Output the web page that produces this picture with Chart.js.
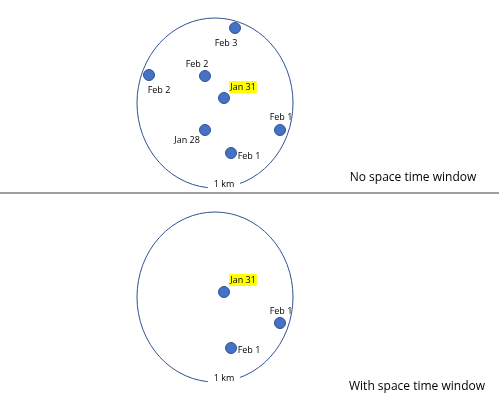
<!DOCTYPE html>
<html>
<head>
<meta charset="utf-8">
<script src="https://cdn.jsdelivr.net/npm/chart.js@4/dist/chart.umd.min.js"></script>
<style>
  html, body { margin: 0; padding: 0; background: #fff; }
  #wrap { width: 499px; height: 407px; }
</style>
</head>
<body>
<div id="wrap"><canvas id="c"></canvas></div>
<script>
// incident points (x, y in picture units)
const topPoints = [
  { x: 235, y: 28 }, { x: 149, y: 75 }, { x: 205, y: 76 }, { x: 224, y: 98 },
  { x: 280, y: 130 }, { x: 205, y: 130 }, { x: 231, y: 153 }
];
const topLabels = ["Feb 3", "Feb 2", "Feb 2", "Jan 31", "Feb 1", "Jan 28", "Feb 1"];
const topLabelPos = [
  { x: 226, y: 43 }, { x: 159, y: 90 }, { x: 197, y: 64 }, { x: 243, y: 87 },
  { x: 281, y: 117 }, { x: 187, y: 140 }, { x: 249, y: 156 }
];
const bottomPoints = [{ x: 224, y: 292 }, { x: 280, y: 323 }, { x: 231, y: 348 }];
const bottomLabels = ["Jan 31", "Feb 1", "Feb 1"];
const bottomLabelPos = [{ x: 243, y: 280 }, { x: 281, y: 311 }, { x: 249, y: 350 }];
const highlighted = "Jan 31";

// 1 km windows: center x, center y, radius x, radius y, label x
const windows = [
  { cx: 215, cy: 103, rx: 78, ry: 85, lx: 224, label: "1 km" },
  { cx: 215, cy: 297, rx: 78, ry: 85, lx: 224, label: "1 km" }
];
const captions = [
  { x: 413, y: 178, text: "No space time window" },
  { x: 417, y: 387, text: "With space time window" }
];
const dividerY = 193;

const overlay = {
  id: "overlay",
  beforeDatasetsDraw(chart) {
    const { ctx, scales: { x, y } } = chart;
    ctx.save();
    // divider
    ctx.strokeStyle = "#7f7f7f";
    ctx.lineWidth = 1.5;
    ctx.beginPath();
    ctx.moveTo(x.getPixelForValue(0), y.getPixelForValue(dividerY));
    ctx.lineTo(x.getPixelForValue(499), y.getPixelForValue(dividerY));
    ctx.stroke();
    // circles
    ctx.strokeStyle = "#2F528F";
    ctx.lineWidth = 1;
    ctx.font = "9px 'Open Sans', sans-serif";
    ctx.textAlign = "center";
    ctx.textBaseline = "middle";
    windows.forEach((w) => {
      const cx = x.getPixelForValue(w.cx), cy = y.getPixelForValue(w.cy);
      const rx = x.getPixelForValue(w.cx + w.rx) - cx;
      const ry = y.getPixelForValue(w.cy + w.ry) - cy;
      ctx.beginPath();
      ctx.ellipse(cx, cy, Math.abs(rx), Math.abs(ry), 0, 0, Math.PI * 2);
      ctx.stroke();
      const lx = x.getPixelForValue(w.lx);
      const ly = cy + Math.abs(ry) - 4;
      ctx.fillStyle = "#fff";
      ctx.fillRect(lx - 16, ly - 7, 32, 14);
      ctx.fillStyle = "#000";
      ctx.fillText(w.label, lx, ly);
    });
    ctx.restore();
  },
  afterDatasetsDraw(chart) {
    const { ctx, scales: { x, y } } = chart;
    ctx.save();
    ctx.font = "9px 'Open Sans', sans-serif";
    ctx.textAlign = "center";
    ctx.textBaseline = "middle";
    const drawLabels = (labels, pos) => {
      labels.forEach((t, i) => {
        const px = x.getPixelForValue(pos[i].x), py = y.getPixelForValue(pos[i].y);
        if (t === highlighted) {
          const w = ctx.measureText(t).width + 2;
          ctx.fillStyle = "#ffff00";
          ctx.fillRect(px - w / 2, py - 6, w, 12);
        }
        ctx.fillStyle = "#000";
        ctx.fillText(t, px, py);
      });
    };
    drawLabels(topLabels, topLabelPos);
    drawLabels(bottomLabels, bottomLabelPos);
    ctx.font = "12px 'Open Sans', sans-serif";
    captions.forEach((c) => {
      ctx.fillText(c.text, x.getPixelForValue(c.x), y.getPixelForValue(c.y));
    });
    ctx.restore();
  }
};

new Chart(document.getElementById("c"), {
  type: "scatter",
  data: {
    datasets: [
      { data: topPoints },
      { data: bottomPoints }
    ].map((d) => ({
      ...d,
      pointRadius: 5.5,
      pointBackgroundColor: "#4472C4",
      pointBorderColor: "#2F528F",
      pointBorderWidth: 1
    }))
  },
  options: {
    responsive: true,
    maintainAspectRatio: false,
    animation: false,
    layout: { padding: 0, autoPadding: false },
    plugins: { legend: { display: false }, tooltip: { enabled: false } },
    scales: {
      x: { type: "linear", min: 0, max: 499, display: false },
      y: { type: "linear", min: 0, max: 407, reverse: true, display: false }
    }
  },
  plugins: [overlay]
});
</script>
</body>
</html>
